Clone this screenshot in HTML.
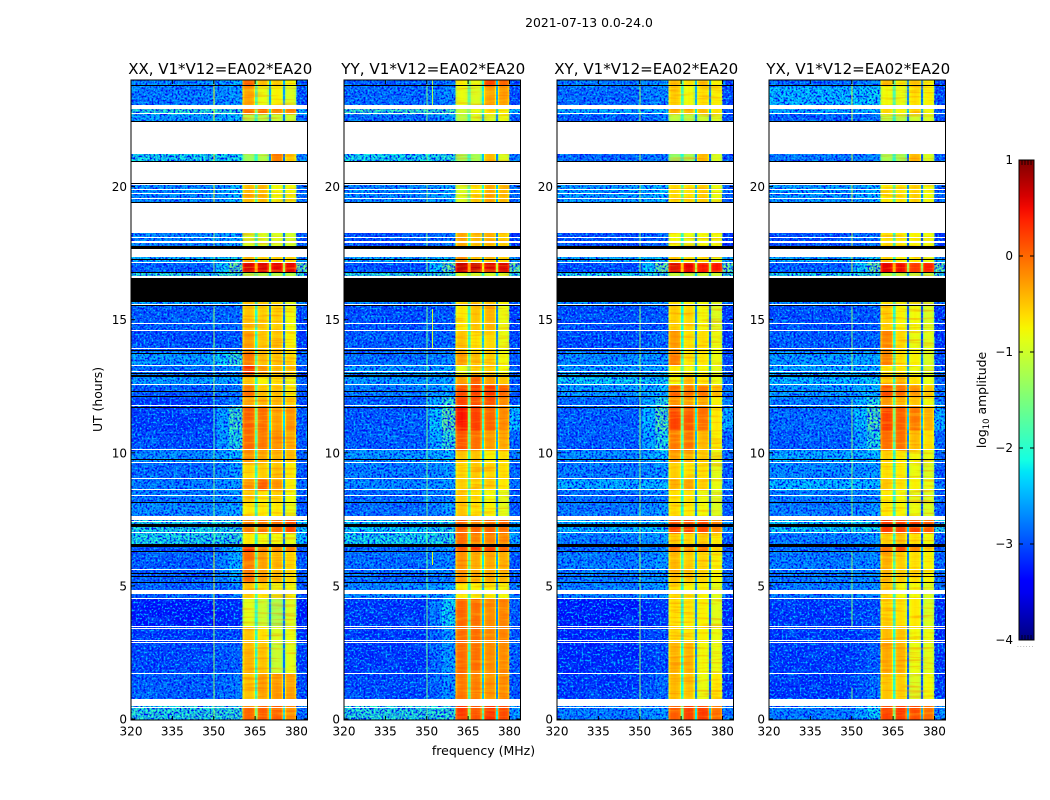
<!DOCTYPE html>
<html lang="en">
<head>
<meta charset="utf-8">
<title>2021-07-13 amplitude waterfall</title>
<style>
html,body{margin:0;padding:0;background:#fff;}
svg{display:block;}
text{font-family:"DejaVu Sans","Liberation Sans",sans-serif;fill:#000;}
</style>
</head>
<body>
<svg id="chart" xmlns="http://www.w3.org/2000/svg" width="1050" height="800" viewBox="0 0 1050 800">
  <defs>
    <filter id="speckle-dark" x="0" y="0" width="1" height="1" color-interpolation-filters="sRGB">
      <feTurbulence type="fractalNoise" baseFrequency="0.5" numOctaves="2" seed="3"/>
      <feColorMatrix type="matrix" values="0 0 0 0 0  0 0 0 0 0.04  0 0 0 0 0.95  5 0 0 0 -2.2"/>
    </filter>
    <filter id="speckle-light" x="0" y="0" width="1" height="1" color-interpolation-filters="sRGB">
      <feTurbulence type="fractalNoise" baseFrequency="0.5" numOctaves="2" seed="11"/>
      <feColorMatrix type="matrix" values="0 0 0 0 0  0 0 0 0 0.75  0 0 0 0 1  4.5 0 0 0 -2.3"/>
    </filter>
    <filter id="background-blotch" x="0" y="0" width="1" height="1" color-interpolation-filters="sRGB">
      <feTurbulence type="fractalNoise" baseFrequency="0.05 0.12" numOctaves="3" seed="21"/>
      <feColorMatrix type="matrix" values="0 0 0 0 0  0 0 0 0 0.85  0 0 0 0 1  3.5 0 0 0 -1.75"/>
    </filter>
    <filter id="band-streak" x="0" y="0" width="1" height="1" color-interpolation-filters="sRGB">
      <feTurbulence type="fractalNoise" baseFrequency="0.03 0.4" numOctaves="2" seed="7"/>
      <feColorMatrix type="matrix" values="0 0 0 0 1  0 0 0 0 0.92  0 0 0 0 0.1  3.5 0 0 0 -1.7"/>
    </filter>
    <filter id="band-streak-hot" x="0" y="0" width="1" height="1" color-interpolation-filters="sRGB">
      <feTurbulence type="fractalNoise" baseFrequency="0.03 0.4" numOctaves="2" seed="15"/>
      <feColorMatrix type="matrix" values="0 0 0 0 1  0 0 0 0 0.3  0 0 0 0 0  3.5 0 0 0 -1.7"/>
    </filter>
  </defs>
  <text x="589" y="27" font-size="12.4" text-anchor="middle">2021-07-13 0.0-24.0</text>
  <text x="483.5" y="755" font-size="12.5" text-anchor="middle">frequency (MHz)</text>
  <text x="0" y="0" font-size="12.4" text-anchor="middle" transform="translate(102,399.5) rotate(-90)">UT (hours)</text>
  <g id="panels"></g>
  <g id="colorbar"></g>
  <text x="0" y="0" font-size="12.4" text-anchor="middle" transform="translate(986,400) rotate(-90)">log<tspan font-size="8.5" dy="3">10</tspan><tspan dy="-3"> amplitude</tspan></text>
  <text x="1017" y="647" font-size="6" letter-spacing="1" style="fill:#777">......</text>
</svg>
<script>
// ---- Data (log10 amplitude, hours, MHz) ----
const panelTitles = ['XX, V1*V12=EA02*EA20', 'YY, V1*V12=EA02*EA20', 'XY, V1*V12=EA02*EA20', 'YX, V1*V12=EA02*EA20'];
const xTickValues = [320, 335, 350, 365, 380];
const yTickValues = [0, 5, 10, 15, 20];
const colorbarTickValues = [1, 0, -1, -2, -3, -4];

// UT hour boundaries of the heatmap rows, bottom to top.
const rowEdges = [0, .6, 1.72, 2.9, 3.5, 4.55, 5.12, 6.32, 6.5, 7.0, 7.5, 8.14, 8.61, 9.02, 9.68, 10.11, 10.86, 11.75, 12.1, 12.55, 12.95, 13.3, 13.82, 14.58, 15.52, 15.7, 16.77, 17.17, 17.5, 18.5, 20.5, 21.6, 22.72, 22.95, 23.77, 24];

// Each row: [background, shoulder, subband1, subband2, subband3, subband4, upper edge]
const xxRows = [
[-1.95,-1.9,0,.05,.05,-.2,-2.8],[-2.9,-2.7,-.5,-.3,-.25,-.3,-3],[-3.05,-2.85,-.4,-.5,-1.05,-.9,-3.1],[-3.15,-3,-.5,-.65,-.95,-.85,-3.2],
[-3.35,-3.2,-.9,-1.05,-1.25,-.95,-3.3],[-2.9,-2.7,-.5,-.65,-.85,-.8,-2.9],[-2.9,-2.4,-.05,-.3,-.45,-.6,-2.9],[-3,-2.3,.35,-.1,-.2,-.15,-2.9],
[-2.05,-1.95,-.7,-.8,-.8,-.85,-2.3],[-2.05,-1.95,-.15,-.1,0,.15,-2.2],[-2.6,-2.4,-.7,-.7,-.7,-.85,-2.9],[-2.7,-2.5,-.55,-.7,-.55,-.8,-2.9],
[-2.7,-2.5,-.25,.05,-.25,-.75,-2.8],[-2.8,-2.5,-.6,-.55,-.5,-.7,-2.9],[-2.6,-2.3,-.25,-.35,-.4,-.45,-2.8],[-3,-2,0,-.1,-.2,-.35,-2.9],
[-3.1,-1.8,.05,-.05,-.3,-.25,-2.9],[-3.1,-2.7,-.3,-.4,-.45,-.55,-3],[-2.9,-2.7,-.1,-.5,-.5,-.75,-2.9],[-2.5,-2.4,-.5,-.75,-.7,-.85,-2.8],
[-2.8,-2.5,.3,-.25,-.45,-.5,-3],[-2.5,-1.9,-.1,-.45,-.5,-.6,-2.8],[-3,-2.9,-.3,-.5,-.5,-.75,-3.1],[-2.9,-2.8,-.5,-.55,-.55,-.8,-3],
[-2.4,-2.3,-.6,-.7,-.7,-.9,-2.6],[-1.95,-1.8,-1.2,-1.2,-1.2,-1.2,-1.9],[-2.9,-1.5,.6,.6,.55,.55,-1.5],[-2.3,-2.1,-.35,-.55,-.55,-.55,-2.5],
[-2.6,-2.4,-.95,-.95,-.95,-1,-2.9],[-2.6,-2.3,-.45,-.45,-.8,-.8,-2.8],[-2.1,-2.1,-1.3,-1.2,-.15,-.55,-2.6],[-2.5,-2.3,-1.15,-1.15,-1.05,-1.05,-2.8],
[-1.95,-1.95,-.05,-.05,-.15,-.15,-2.3],[-2.7,-2.5,-.35,-.85,-.75,-.95,-2.9],[-2.6,-2.4,.05,-.45,-.55,-.75,-2.9]];

const yyRows = [
[-1.95,-1.9,.25,.1,.3,.15,-2.5],[-3.05,-2.6,-.1,-.15,-.25,-.2,-2.9],[-3.15,-2.5,-.02,-.05,-.2,-.2,-2.9],[-3.15,-2.5,0,-.05,-.2,-.15,-2.9],
[-3.15,-2.2,0,-.05,-.2,-.15,-2.9],[-2.6,-2.4,-.7,-.75,-.75,-.8,-2.7],[-2.8,-2.6,-.25,-.35,-.35,-.4,-2.9],[-2.8,-2.6,.1,.25,.2,0,-2.8],
[-2.1,-2,-.05,-.15,-.15,-.2,-2.4],[-2.2,-2.05,.05,0,0,0,-2.5],[-2.8,-2.5,-.5,-.65,-.75,-.9,-2.9],[-2.8,-2.6,-.5,-.65,-.8,-.9,-2.9],
[-2.6,-2.5,-.55,-.6,-.6,-.7,-2.8],[-2.7,-2.5,-.6,-.5,-.6,-.65,-2.8],[-2.5,-2.3,-.5,-.5,-.75,-.65,-2.7],[-2.9,-1.9,.1,-.05,-.3,-.35,-2.8],
[-2.9,-1.6,.45,.22,0,-.2,-2.3],[-2.9,-1.9,.2,.15,.15,-.2,-2.8],[-2.7,-2.4,.15,.2,.25,.05,-2.9],[-2.5,-2.4,-.3,.05,-.3,-.5,-2.8],
[-2.5,-2.4,-.85,-.65,-.55,-.8,-2.8],[-2.8,-2.6,-.3,-.45,-.55,-.8,-2.9],[-2.9,-2.8,-.5,-.65,-.6,-.85,-3],[-3,-2.9,-.7,-.5,-.4,-.85,-3.1],
[-2.7,-2.6,-.65,-.55,-.45,-.75,-2.9],[-1.95,-1.85,-1,-1,-1,-1,-1.9],[-3,-1.5,.7,.7,.6,.6,-1.5],[-2.4,-2.2,-.25,-.55,-.45,-.55,-2.5],
[-3,-2.7,-.35,-.5,-.5,-.55,-3.1],[-2.6,-2.4,-.95,-.65,-.35,-.45,-2.8],[-2.1,-2,-1.25,-1.25,-.45,-.95,-2.7],[-2.8,-2.5,-1.15,-.95,-.95,-.85,-2.9],
[-1.85,-1.8,-1.05,-.85,-.65,-.75,-2.3],[-2.8,-2.6,-.85,-.95,-.3,-.3,-3],[-2.9,-2.7,-.75,-.85,.2,0,-3]];

const xyRows = [
[-2.7,-2.5,.05,.2,.25,-.05,-2.7],[-3.15,-2.8,-.45,-.5,-.85,-.7,-3.1],[-3.25,-3,-.4,-.4,-.8,-.85,-3.1],[-3.25,-3,-.6,-.7,-.75,-.85,-3.2],
[-3.35,-3.1,-.65,-.7,-.75,-.9,-3.2],[-2.7,-2.5,-.65,-.75,-.75,-.9,-2.8],[-2.7,-2.5,-.45,-.55,-.6,-.75,-2.8],[-2.8,-2.6,0,-.2,-.1,-.55,-2.9],
[-2.7,-2.5,-.55,-.6,-.55,-.7,-2.9],[-2.3,-2.2,.2,.2,.15,-.2,-2.5],[-2.7,-2.5,-.65,-.7,-.8,-.95,-2.9],[-2.8,-2.6,-.65,-.65,-.85,-.95,-2.9],
[-2.4,-2.3,-.4,-.3,-.55,-.85,-2.7],[-2.7,-2.5,-.55,-.65,-.65,-.9,-2.9],[-2.6,-2.3,-.3,-.4,-.55,-.85,-2.8],[-2.9,-2,-.1,-.05,-.45,-.75,-2.8],
[-2.9,-1.7,.2,.1,-.05,-.7,-2.4],[-2.8,-2,-.25,-.35,-.35,-.75,-2.7],[-2.5,-2.3,0,-.1,-.1,-.45,-2.8],[-2.2,-2.2,-.8,-.45,-.7,-.85,-2.8],
[-2.5,-2.4,-.7,-.8,-.8,-.9,-2.9],[-2.6,-2.5,-.1,-.7,-.7,-.85,-3],[-3,-2.8,-.3,-.65,-.65,-.85,-3.1],[-3,-2.9,-.55,-.6,-.8,-.95,-3.1],
[-2.6,-2.5,-.65,-.75,-.8,-.95,-2.8],[-2.05,-1.9,-1.1,-1.1,-1.1,-1.1,-1.9],[-3,-1.5,.6,.55,.45,.45,-1.5],[-2.4,-2.2,-.55,-.65,-.65,-.85,-2.5],
[-3,-2.8,-.8,-.85,-.8,-.8,-3.1],[-2.5,-2.3,-.6,-.65,-.55,-.85,-2.8],[-2.8,-2.7,-1.4,-1.25,-.45,-.95,-2.9],[-2.9,-2.7,-1.15,-1.15,-1.05,-.95,-3],
[-2.4,-2.3,-.4,-.45,-.45,-.65,-2.9],[-2.8,-2.6,-.55,-.8,-.65,-.75,-3],[-2.7,-2.5,-.45,-.65,-.45,-.75,-3]];

const yxRows = [
[-2.7,-2.2,.2,.25,.15,-.05,-2.6],[-3.15,-2.8,-.5,-.55,-.95,-.8,-3.1],[-3.15,-2.9,-.35,-.4,-.85,-.9,-3.1],[-3.15,-3,-.45,-.5,-.8,-.85,-3.2],
[-3.15,-3,-.6,-.65,-.7,-.95,-3.2],[-2.7,-2.6,-.65,-.8,-.8,-.95,-2.8],[-2.7,-2.6,-.4,-.55,-.65,-.75,-2.8],[-2.8,-2.6,0,.15,-.2,-.55,-2.9],
[-2.7,-2.5,-.55,-.5,-.65,-.8,-2.9],[-2.2,-2.1,.25,.2,.2,.05,-2],[-2.7,-2.5,-.7,-.75,-.85,-.95,-2.9],[-2.7,-2.6,-.7,-.8,-.9,-.95,-2.9],
[-2.3,-2.3,-.55,-.65,-.75,-.85,-2.7],[-2.6,-2.5,-.65,-.7,-.85,-.95,-2.9],[-2.4,-2.3,-.55,-.7,-.8,-.85,-2.8],[-2.9,-2,-.05,-.05,-.45,-.65,-2.8],
[-2.8,-1.7,.2,.05,-.1,-.4,-2.4],[-2.7,-2,-.25,-.4,-.5,-.8,-2.7],[-2.5,-2.3,.15,-.05,-.2,-.5,-2.8],[-2.3,-2.2,-.55,-.45,-.65,-.85,-2.8],
[-2.4,-2.4,-.7,-.7,-.85,-.95,-2.9],[-2.5,-2.4,-.2,-.65,-.75,-.95,-3],[-2.9,-2.8,-.15,-.6,-.85,-.9,-3.1],[-3,-2.9,-.55,-.75,-.8,-.95,-3.1],
[-2.6,-2.5,-.7,-.8,-.85,-1,-2.8],[-2.05,-1.9,-1.1,-1.1,-1.1,-1.1,-1.9],[-2.9,-1.5,.55,.5,.25,.4,-1.6],[-2.4,-2.2,-.55,-.7,-.7,-.85,-2.5],
[-3,-2.7,-.65,-.7,-.75,-.8,-3.1],[-2.5,-2.3,-.7,-.65,-.55,-.8,-2.8],[-2.7,-2.6,-1.25,-1.25,-.4,-.95,-2.9],[-2.9,-2.7,-1.1,-1.15,-1.05,-.95,-3],
[-2.4,-2.3,-.6,-.75,-.55,-.8,-2.9],[-2.3,-2.2,-.8,-.85,-.65,-.75,-3],[-2.8,-2.6,-.45,-.75,-.55,-.75,-3]];

// Frequency structure in MHz.
const subbandRanges = [[360.4, 365], [365.7, 370], [370.7, 375.2], [375.8, 380]];
const notchRanges = [[365, 365.7], [370, 370.7], [375.2, 375.8]];
const bandpassShape = [-.4, -.08, 0, 0, .03, .03, 0, 0, -.08, -.4];
const xxNotches = [-2, -2.7, -2.8];
const yyNotches = [-1.9, -2.4, -2.7];
const xyNotches = [-2.1, -2.7, -2.9];
const yxNotches = [-2, -2.9, -3];
// Extra notch level per row (notches fill in when the band is very bright).
const notchLift = [.5,0,0,0,0,0,.2,.6,0,.5,0,0,.2,0,0,.2,.5,.2,.3,0,.4,.2,0,0,0,.4,1.6,0,0,.3,0,0,.5,.2,.3];

// Narrow-band interference lines: [MHz, startHour, endHour, log10 amplitude]
const xxRfi = [[350, 0, 3.5, -1.4], [350, 3.5, 6.3, -1], [350, 6.3, 10, -1.6], [350, 10, 12, -1.8], [350, 12, 15.5, -1.4], [350, 16.8, 18.3, -1.5], [350, 19.4, 24, -.85]];
const yyRfi = [[350, 0, 10, -1.6], [350, 10, 15.5, -1.6], [350, 16.8, 24, -1.5], [351.9, 5.8, 6.3, -.9], [351.9, 13.9, 15.4, -1], [351.9, 23, 24, -1.2]];
const xyRfi = [[350, 0, 15.5, -1.4], [350, 16.8, 24, -1.3]];
const yxRfi = [[350, .5, 1.2, -1.6], [350, 3.5, 6.3, -1.5], [350, 7, 12, -1.5], [350, 13, 15.5, -1.5], [350, 16.8, 24, -1.1]];

// Flagged time ranges in hours.
const whiteFlags = [[.525,.77],[.42,.48],[1.72,1.745],[2.87,2.908],[2.945,2.983],[3.396,3.433],[3.49,3.527],[4.52,4.56],[4.71,4.85],[5.61,5.65],[6.99,7.025],[7.41,7.46],[7.49,7.65],[8.39,8.43],[8.6,8.64],[9.01,9.05],[9.63,9.67],[10.11,10.15],[11.75,11.79],[12.55,12.59],[13.04,13.08],[13.28,13.32],[13.89,13.93],[14.58,14.62],[14.83,14.87],[15.55,15.59],[16.57,16.64],[17.14,17.17],[17.37,17.65],[17.89,17.94],[18.05,18.11],[18.26,19.38],[19.52,19.56],[19.7,19.74],[19.85,19.89],[20.05,20.09],[20.13,20.92],[21.22,22.42],[22.71,22.74],[22.91,23.04]];
const blackFlags = [[5.11,5.16],[5.33,5.37],[5.46,5.5],[6.31,6.34],[6.48,6.575],[7.235,7.32],[8.14,8.18],[9.72,9.76],[11.69,11.73],[12.1,12.14],[12.29,12.33],[12.87,12.91],[12.95,12.99],[13.74,13.77],[13.81,13.85],[15.5,15.54],[15.66,16.57],[16.76,16.79],[17.25,17.29],[17.65,17.77],[19.39,19.42],[20.1,20.13],[20.93,20.96],[22.42,22.45],[23.76,23.8]];

// ---- Rendering ----
const SVGNS = 'http://www.w3.org/2000/svg';
function make(tag, attrs) {
  const el = document.createElementNS(SVGNS, tag);
  for (const k in attrs) el.setAttribute(k, attrs[k]);
  return el;
}
function lerpStops(stops, t) {
  for (let i = 1; i < stops.length; i++) {
    if (t <= stops[i][0]) {
      const a = stops[i - 1], b = stops[i];
      return a[1] + (b[1] - a[1]) * (t - a[0]) / (b[0] - a[0]);
    }
  }
  return stops[stops.length - 1][1];
}
const jetR = [[0, 0], [.35, 0], [.66, 1], [.89, 1], [1, .5]];
const jetG = [[0, 0], [.125, 0], [.375, 1], [.64, 1], [.91, 0], [1, 0]];
const jetB = [[0, .5], [.11, 1], [.34, 1], [.65, 0], [1, 0]];
function jet(v) {
  const t = Math.max(0, Math.min(1, (v + 4) / 5));
  const ch = s => Math.round(255 * lerpStops(s, t));
  return 'rgb(' + ch(jetR) + ',' + ch(jetG) + ',' + ch(jetB) + ')';
}
const panelLefts = [131, 344, 557, 769];
const panelWidth = 176.5;
const plotTop = 80, plotBottom = 720;
const yScale = h => Math.max(plotTop, Math.min(plotBottom, 719 - h * 26.62));
const flagScale = h => Math.max(plotTop, Math.min(plotBottom, 719.5 - h * 26.65));

const panelsRoot = document.getElementById('panels');
const panelKeys = ['xx', 'yy', 'xy', 'yx'];
const panelRows = [xxRows, yyRows, xyRows, yxRows];
const panelNotches = [xxNotches, yyNotches, xyNotches, yxNotches];
const panelRfi = [xxRfi, yyRfi, xyRfi, yxRfi];

panelKeys.forEach((key, p) => {
  const left = panelLefts[p];
  const xScale = f => left + (f - 320) * panelWidth / 64;
  const g = make('g', {});
  
  
  panelsRoot.appendChild(g);

  const cellsGroup = make('g', { 'shape-rendering': 'crispEdges' });
  
  
  g.appendChild(cellsGroup);

  function addCell(f0, f1, h0, h1, v) {
    const x0 = xScale(f0), x1 = xScale(f1), yTop = flagScale(h1), yBot = flagScale(h0);
    const r = make('rect', { x: x0.toFixed(2), y: yTop.toFixed(2), width: (x1 - x0 + .3).toFixed(2), height: (yBot - yTop + .3).toFixed(2), fill: jet(v) });
    
    
    cellsGroup.appendChild(r);
  }

  panelRows[p].forEach((row, i) => {
    const h0 = i === 0 ? -0.1 : rowEdges[i], h1 = rowEdges[i + 1];
    addCell(320, 351, h0, h1, row[0]);
    addCell(351, 355.5, h0, h1, (row[0] + row[1]) / 2);
    addCell(355.5, 360.4, h0, h1, row[1]);
    subbandRanges.forEach((sb, s) => {
      const n = bandpassShape.length;
      bandpassShape.forEach((off, c) => {
        const a = sb[0] + (sb[1] - sb[0]) * c / n;
        const b = sb[0] + (sb[1] - sb[0]) * (c + 1) / n;
        addCell(a, b, h0, h1, row[2 + s] + off);
      });
    });
    notchRanges.forEach((nr, s) => {
      addCell(nr[0], nr[1], h0, h1, panelNotches[p][s] + notchLift[i]);
    });
    addCell(380, 384, h0, h1, row[6]);
  });

  // Fine texture overlays (background speckle, blotches, band streaks).
  const blotch = make('rect', { x: xScale(320), y: plotTop, width: xScale(355) - xScale(320), height: plotBottom - plotTop, filter: 'url(#background-blotch)', opacity: .32 });
  
  
  g.appendChild(blotch);
  [[320, 360.4], [380, 384]].forEach(span => {
    ['speckle-dark', 'speckle-light'].forEach(fid => {
      const t = make('rect', { x: xScale(span[0]), y: plotTop, width: xScale(span[1]) - xScale(span[0]), height: plotBottom - plotTop, filter: 'url(#' + fid + ')' });
      
      
      g.appendChild(t);
    });
  });
  ['band-streak', 'band-streak-hot'].forEach(fid => {
    const streak = make('rect', { x: xScale(360.4), y: plotTop, width: xScale(380) - xScale(360.4), height: plotBottom - plotTop, filter: 'url(#' + fid + ')', opacity: .3 });
    
    
    g.appendChild(streak);
  });

  // Interference lines.
  panelRfi[p].forEach(line => {
    const x = xScale(line[0]);
    const yTop = flagScale(line[2]), yBot = flagScale(line[1]);
    const r = make('rect', { x: x.toFixed(2), y: yTop.toFixed(2), width: 1, height: (yBot - yTop).toFixed(2), fill: jet(line[3]), 'shape-rendering': 'crispEdges' });
    
    
    g.appendChild(r);
  });

  // Flagged time ranges (snapped to whole pixels).
  whiteFlags.forEach(fl => {
    const yTop = Math.round(flagScale(fl[1])), yBot = Math.round(flagScale(fl[0]));
    const r = make('rect', { x: left, y: yTop, width: panelWidth, height: Math.max(1, yBot - yTop), fill: '#fff', 'shape-rendering': 'crispEdges' });
    
    
    g.appendChild(r);
  });
  blackFlags.forEach(fl => {
    const yTop = Math.round(flagScale(fl[1])), yBot = Math.round(flagScale(fl[0]));
    const r = make('rect', { x: left, y: yTop, width: panelWidth, height: Math.max(1, yBot - yTop), fill: '#000', 'shape-rendering': 'crispEdges' });
    
    
    g.appendChild(r);
  });

  // Frame.
  const frame = make('rect', { x: left, y: plotTop, width: panelWidth, height: plotBottom - plotTop, fill: 'none', stroke: '#000', 'stroke-width': 1 });
  
  
  g.appendChild(frame);

  // X ticks and labels.
  xTickValues.forEach(v => {
    const x = xScale(v);
    const t1 = make('line', { x1: x, x2: x, y1: plotBottom, y2: plotBottom - 4, stroke: '#000', 'stroke-width': 1 });
    
    
    g.appendChild(t1);
    const t2 = make('line', { x1: x, x2: x, y1: plotTop, y2: plotTop + 4, stroke: '#000', 'stroke-width': 1 });
    
    
    g.appendChild(t2);
    const lab = make('text', { x: x, y: 735.5, 'font-size': 12, 'text-anchor': 'middle' });
    
    
    lab.textContent = v;
    g.appendChild(lab);
  });
  // Y ticks and labels.
  yTickValues.forEach(v => {
    const y = yScale(v);
    const t1 = make('line', { x1: left, x2: left + 4, y1: y, y2: y, stroke: '#000', 'stroke-width': 1 });
    
    
    g.appendChild(t1);
    const t2 = make('line', { x1: left + panelWidth, x2: left + panelWidth - 4, y1: y, y2: y, stroke: '#000', 'stroke-width': 1 });
    
    
    g.appendChild(t2);
    const lab = make('text', { x: left - 4, y: y + 4.5, 'font-size': 12, 'text-anchor': 'end' });
    
    
    lab.textContent = v;
    g.appendChild(lab);
  });
  // Title.
  const title = make('text', { x: left + panelWidth / 2 + 1, y: 74, 'font-size': 15.5, 'text-anchor': 'middle', textLength: 184, lengthAdjust: 'spacingAndGlyphs' });
  
  
  title.textContent = panelTitles[p];
  g.appendChild(title);
});

// ---- Colorbar ----
(function () {
  const root = document.getElementById('colorbar');
  const left = 1019, right = 1034, top = 160, bottom = 640;
  const cY = v => top + (1 - v) * (bottom - top) / 5;
  const defs = document.querySelector('defs');
  const grad = make('linearGradient', { id: 'jet-gradient', x1: 0, y1: 1, x2: 0, y2: 0 });
  
  
  for (let i = 0; i <= 40; i++) {
    const s = make('stop', { offset: i / 40, 'stop-color': jet(-4 + i * 5 / 40) });
    
    
    grad.appendChild(s);
  }
  defs.appendChild(grad);
  const bar = make('rect', { x: left, y: top, width: right - left, height: bottom - top, fill: 'url(#jet-gradient)', stroke: '#000', 'stroke-width': 1 });
  
  
  root.appendChild(bar);
  colorbarTickValues.forEach(v => {
    const y = cY(v);
    if (v !== 1 && v !== -4) {
      const a = make('line', { x1: left, x2: left + 4, y1: y, y2: y, stroke: '#000' });
      
      
      root.appendChild(a);
      const b = make('line', { x1: right, x2: right - 4, y1: y, y2: y, stroke: '#000' });
      
      
      root.appendChild(b);
    }
    const lab = make('text', { x: 1013, y: y + 4, 'font-size': 12, 'text-anchor': 'end' });
    
    
    lab.textContent = String(v).replace('-', '\u2212');
    root.appendChild(lab);
  });
  [1022, 1025, 1028, 1031].forEach(x => {
    const a = make('line', { x1: x, x2: x, y1: top, y2: top + 5, stroke: '#000', 'stroke-width': .8 });
    
    
    root.appendChild(a);
    const b = make('line', { x1: x, x2: x, y1: bottom, y2: bottom - 5, stroke: '#000', 'stroke-width': .8 });
    
    
    root.appendChild(b);
  });
})();
</script>
</body>
</html>
